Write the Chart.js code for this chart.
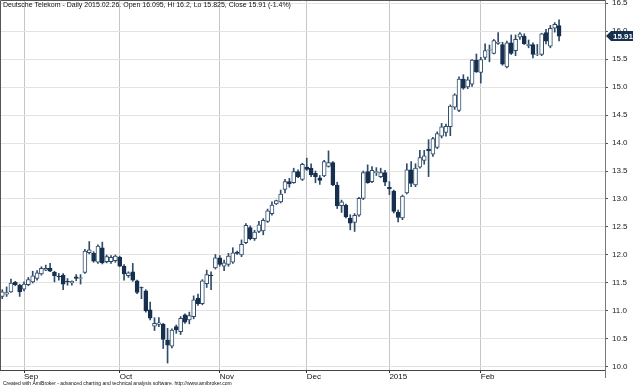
<!DOCTYPE html>
<html>
<head>
<meta charset="utf-8">
<title>Deutsche Telekom - Daily</title>
<script src="https://cdn.jsdelivr.net/npm/chart.js@4.4.1/dist/chart.umd.min.js"></script>
<style>
  html, body { margin: 0; padding: 0; background: #fff; }
  canvas { display: block; }
</style>
</head>
<body>
<canvas id="myChart" width="638" height="386"></canvas>
<script>
// daily bars, first bar = 2014-08-25, last bar = 2015-02-26 (bar index on x)
const opens = [
  11.26, 11.30, 11.34, 11.51, 11.46, 11.39, 11.47, 11.52, 11.58, 11.66,
  11.73, 11.76, 11.69, 11.62, 11.64, 11.53, 11.50, 11.61, 11.58, 11.69,
  12.04, 12.03, 11.87, 12.13, 11.88, 11.88, 11.90, 11.96, 11.80, 11.63,
  11.70, 11.54, 11.42, 11.36, 11.02, 10.73, 10.76, 10.76, 10.48, 10.37,
  10.72, 10.63, 10.93, 10.84, 10.90, 11.23, 11.13, 11.49, 11.64, 11.77,
  11.95, 11.80, 11.83, 11.87, 12.05, 12.00, 12.22, 12.49, 12.29, 12.42,
  12.43, 12.60, 12.74, 12.91, 12.95, 13.17, 13.31, 13.29, 13.49, 13.35,
  13.57, 13.55, 13.46, 13.38, 13.41, 13.58, 13.65, 13.25, 12.88, 12.89,
  12.66, 12.58, 12.71, 13.01, 13.49, 13.31, 13.47, 13.40, 13.47, 13.21,
  13.14, 12.76, 12.66, 13.11, 13.52, 13.25, 13.57, 13.69, 13.89, 13.80,
  13.92, 14.12, 14.19, 14.29, 14.64, 14.58, 15.14, 15.00, 15.05, 15.48,
  15.26, 15.53, 15.66, 15.60, 15.78, 15.76, 15.36, 15.79, 15.65, 15.89,
  15.91, 15.74, 15.76, 15.58, 15.58, 15.97, 15.73, 16.05, 16.095
];
const highs = [
  11.38, 11.43, 11.57, 11.53, 11.48, 11.52, 11.60, 11.71, 11.72, 11.79,
  11.82, 11.85, 11.71, 11.67, 11.67, 11.58, 11.54, 11.65, 11.65, 12.10,
  12.24, 12.06, 12.18, 12.23, 12.00, 11.99, 12.00, 11.98, 11.83, 11.70,
  11.85, 11.55, 11.43, 11.38, 11.16, 10.88, 10.88, 10.78, 10.69, 10.68,
  10.75, 10.90, 10.95, 10.98, 11.27, 11.30, 11.56, 11.73, 11.70, 12.01,
  11.99, 11.91, 12.03, 12.13, 12.07, 12.27, 12.56, 12.52, 12.44, 12.60,
  12.65, 12.82, 12.95, 12.98, 13.16, 13.35, 13.37, 13.55, 13.52, 13.64,
  13.73, 13.63, 13.50, 13.42, 13.69, 13.86, 13.67, 13.30, 12.98, 12.91,
  12.72, 12.74, 13.03, 13.50, 13.61, 13.58, 13.56, 13.55, 13.51, 13.31,
  13.16, 12.80, 13.07, 13.63, 13.67, 13.63, 13.87, 13.87, 14.06, 14.10,
  14.20, 14.35, 14.34, 14.68, 14.88, 15.18, 15.22, 15.18, 15.49, 15.59,
  15.53, 15.77, 15.75, 15.85, 15.97, 15.80, 15.82, 15.93, 15.93, 15.97,
  15.95, 15.84, 15.79, 15.76, 15.96, 16.03, 16.10, 16.15, 16.2
];
const lows = [
  11.22, 11.26, 11.33, 11.45, 11.26, 11.36, 11.45, 11.50, 11.55, 11.64,
  11.72, 11.70, 11.52, 11.55, 11.38, 11.46, 11.46, 11.54, 11.48, 11.67,
  12.02, 11.87, 11.85, 11.84, 11.86, 11.85, 11.87, 11.79, 11.55, 11.60,
  11.53, 11.31, 11.22, 10.98, 10.84, 10.65, 10.72, 10.33, 10.07, 10.34,
  10.60, 10.58, 10.78, 10.77, 10.86, 11.10, 11.11, 11.42, 11.38, 11.75,
  11.80, 11.72, 11.80, 11.85, 12.01, 11.97, 12.20, 12.27, 12.26, 12.40,
  12.36, 12.58, 12.71, 12.90, 12.93, 13.11, 13.21, 13.28, 13.38, 13.33,
  13.51, 13.40, 13.29, 13.26, 13.40, 13.57, 13.24, 12.83, 12.76, 12.66,
  12.45, 12.42, 12.69, 12.99, 13.28, 13.29, 13.42, 13.38, 13.24, 13.08,
  12.75, 12.59, 12.63, 13.09, 13.22, 13.22, 13.55, 13.62, 13.40, 13.76,
  13.90, 14.09, 14.12, 14.13, 14.60, 14.56, 14.96, 14.97, 15.01, 15.26,
  15.07, 15.49, 15.45, 15.59, 15.76, 15.39, 15.34, 15.58, 15.56, 15.85,
  15.76, 15.70, 15.52, 15.56, 15.56, 15.77, 15.70, 15.98, 15.825
];
const closes = [
  11.34, 11.33, 11.50, 11.47, 11.34, 11.48, 11.56, 11.63, 11.68, 11.76,
  11.76, 11.71, 11.63, 11.61, 11.48, 11.52, 11.53, 11.58, 11.59, 12.07,
  12.09, 11.89, 12.16, 11.86, 11.97, 11.96, 11.98, 11.80, 11.66, 11.68,
  11.55, 11.33, 11.41, 11.00, 10.87, 10.78, 10.79, 10.49, 10.39, 10.66,
  10.66, 10.87, 10.80, 10.92, 11.20, 11.13, 11.54, 11.65, 11.63, 11.95,
  11.83, 11.86, 11.98, 12.04, 12.03, 12.19, 12.53, 12.29, 12.41, 12.54,
  12.62, 12.79, 12.89, 12.97, 13.09, 13.31, 13.27, 13.49, 13.40, 13.62,
  13.53, 13.43, 13.40, 13.33, 13.67, 13.65, 13.25, 12.88, 12.95, 12.68,
  12.57, 12.71, 13.01, 13.47, 13.29, 13.51, 13.49, 13.47, 13.30, 13.18,
  12.78, 12.67, 13.05, 13.52, 13.28, 13.55, 13.74, 13.77, 13.86, 14.08,
  14.17, 14.29, 14.30, 14.66, 14.86, 15.14, 14.98, 15.13, 15.48, 15.27,
  15.49, 15.65, 15.67, 15.83, 15.80, 15.41, 15.79, 15.60, 15.85, 15.95,
  15.77, 15.76, 15.58, 15.59, 15.95, 15.82, 16.05, 16.12, 15.91
];

// first bar of each month and its label
const monthTickIdx = [5, 27, 50, 70, 89, 110];
const monthTickLabels = ['Sep', 'Oct', 'Nov', 'Dec', '2015', 'Feb'];
const priceTicks = [10.0, 10.5, 11.0, 11.5, 12.0, 12.5, 13.0, 13.5, 14.0, 14.5, 15.0, 15.5, 16.0, 16.5];

const titleText = 'Deutsche Telekom - Daily 2015.02.26. Open 16.095, Hi 16.2, Lo 15.825, Close 15.91 (-1.4%)';
const footerText = 'Created with AmiBroker - advanced charting and technical analysis software. http://www.amibroker.com';

const upColor = '#ffffff';
const downColor = '#17304f';
const edgeColor = '#2f4d6b';
const fontFamily = '"Liberation Sans", Arial, sans-serif';

const idx = closes.map((c, i) => i);
const bodies = idx.map(i => ({ x: i, y: [opens[i], closes[i]] }));
const wicks = idx.map(i => ({ x: i, y: [lows[i], highs[i]] }));
const bodyFill = idx.map(i => closes[i] >= opens[i] ? upColor : downColor);
const bodyEdge = idx.map(i => closes[i] >= opens[i] ? edgeColor : downColor);

const data = {
  datasets: [{
    label: 'body',
    data: bodies,
    backgroundColor: bodyFill,
    borderColor: bodyEdge,
    borderWidth: 1,
    borderSkipped: false,
    barThickness: 4,
    grouped: false
  }, {
    label: 'wick',
    data: wicks,
    backgroundColor: edgeColor,
    borderWidth: 0,
    barThickness: 1,
    grouped: false
  }]
};

// frame, title, footer and the last close marker
const decorations = {
  id: 'decorations',
  afterDraw(chart) {
    const ctx = chart.ctx;
    const area = chart.chartArea;
    const yScale = chart.scales.y;
    ctx.save();
    ctx.strokeStyle = '#555';
    ctx.lineWidth = 1;
    ctx.beginPath();
    ctx.moveTo(0.5, area.bottom);
    ctx.lineTo(0.5, 0.5);
    ctx.lineTo(area.right, 0.5);
    ctx.stroke();
    ctx.strokeStyle = '#777';
    ctx.beginPath();
    ctx.moveTo(Math.round(area.right) + 0.5, area.bottom);
    ctx.lineTo(Math.round(area.right) + 0.5, area.bottom + 8);
    ctx.stroke();

    ctx.fillStyle = '#111';
    ctx.font = '7px ' + fontFamily;
    ctx.textBaseline = 'top';
    ctx.textAlign = 'left';
    ctx.fillText(titleText, 3, 2);

    ctx.font = '5px ' + fontFamily;
    ctx.textBaseline = 'alphabetic';
    ctx.fillText(footerText, 3, 384.5);

    const last = closes[closes.length - 1];
    const py = yScale.getPixelForValue(last);
    const x0 = area.right + 1;
    ctx.fillStyle = downColor;
    ctx.beginPath();
    ctx.moveTo(x0, py);
    ctx.lineTo(x0 + 5, py - 5);
    ctx.lineTo(x0 + 27, py - 5);
    ctx.lineTo(x0 + 27, py + 5);
    ctx.lineTo(x0 + 5, py + 5);
    ctx.closePath();
    ctx.fill();
    ctx.fillStyle = '#fff';
    ctx.font = 'bold 8px ' + fontFamily;
    ctx.textBaseline = 'middle';
    ctx.fillText(last.toFixed(2), x0 + 7, py + 0.5);
    ctx.restore();
  }
};

const config = {
  type: 'bar',
  data: data,
  options: {
    responsive: false,
    animation: false,
    layout: { padding: 0 },
    plugins: {
      legend: { display: false },
      tooltip: { enabled: false }
    },
    scales: {
      x: {
        type: 'linear',
        min: -0.52,
        max: 138.56,
        offset: false,
        afterBuildTicks: s => { s.ticks = monthTickIdx.map(v => ({ value: v })); },
        afterFit: s => { s.height = 16; s.paddingLeft = 0; s.paddingRight = 0; },
        grid: { color: '#c6c6c6', tickColor: '#333', tickLength: 3, offset: false },
        border: { color: '#444' },
        ticks: {
          align: 'start',
          padding: -1,
          autoSkip: false,
          maxRotation: 0,
          color: '#111',
          font: { family: fontFamily, size: 8 },
          callback: v => monthTickLabels[monthTickIdx.indexOf(v)]
        }
      },
      y: {
        position: 'right',
        min: 9.946,
        max: 16.554,
        afterBuildTicks: s => { s.ticks = priceTicks.map(v => ({ value: v })); },
        afterFit: s => { s.width = 33; s.paddingTop = 0; s.paddingBottom = 0; },
        grid: { color: '#e3e3e3', tickColor: '#555', tickLength: 3 },
        border: { color: '#777' },
        ticks: {
          padding: 4,
          color: '#222',
          font: { family: fontFamily, size: 8 },
          callback: v => v.toFixed(1)
        }
      }
    }
  },
  plugins: [decorations]
};

const myChart = new Chart(document.getElementById('myChart'), config);
</script>
</body>
</html>
